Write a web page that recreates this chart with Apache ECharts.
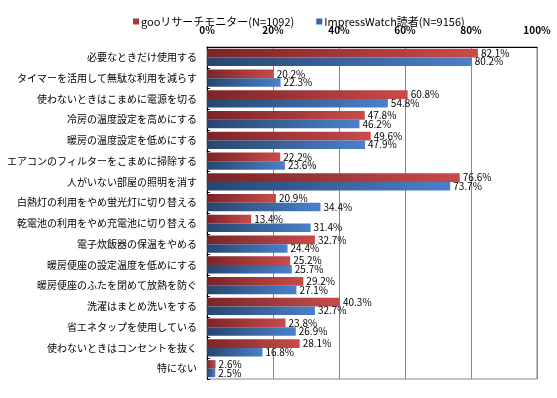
<!DOCTYPE html>
<html>
<head>
<meta charset="utf-8">
<script src="https://cdn.jsdelivr.net/npm/echarts@6/dist/echarts.min.js"></script>
<style>
html,body{margin:0;padding:0;background:#fff;}
#myChart{width:557px;height:398px;}
</style>
</head>
<body>
<div id="myChart"></div>
<script type="text/javascript">
// データ
var categories = [
	'必要なときだけ使用する',
	'タイマーを活用して無駄な利用を減らす',
	'使わないときはこまめに電源を切る',
	'冷房の温度設定を高めにする',
	'暖房の温度設定を低めにする',
	'エアコンのフィルターをこまめに掃除する',
	'人がいない部屋の照明を消す',
	'白熱灯の利用をやめ蛍光灯に切り替える',
	'乾電池の利用をやめ充電池に切り替える',
	'電子炊飯器の保温をやめる',
	'暖房便座の設定温度を低めにする',
	'暖房便座のふたを閉めて放熱を防ぐ',
	'洗濯はまとめ洗いをする',
	'省エネタップを使用している',
	'使わないときはコンセントを抜く',
	'特にない'
];
var seriesNames = ['gooリサーチモニター(N=1092)', 'ImpressWatch読者(N=9156)'];
var gooValues = [82.1, 20.2, 60.8, 47.8, 49.6, 22.2, 76.6, 20.9, 13.4, 32.7, 25.2, 29.2, 40.3, 23.8, 28.1, 2.6];
var impressValues = [80.2, 22.3, 54.8, 46.2, 47.9, 23.6, 73.7, 34.4, 31.4, 24.4, 25.7, 27.1, 32.7, 26.9, 16.8, 2.5];
var xTicks = [0, 20, 40, 60, 80, 100];

var font = '"Noto Sans CJK JP", sans-serif';

function grad(c1, c2)
{
	return new echarts.graphic.LinearGradient(0, 0, 1, 0, [
		{offset: 0, color: c1},
		{offset: 1, color: c2}
	]);
}

function makeSeries(name, data, c1, c2)
{
	return {
		name: name,
		type: 'bar',
		data: data,
		barGap: '0%',
		barCategoryGap: '18%',
		itemStyle: {color: grad(c1, c2)},
		label: {
			show: true,
			position: 'right',
			distance: 3,
			formatter: '{c}%',
			color: '#000',
			fontFamily: font,
			fontSize: 10
		}
	};
}

var option = {
	animation: false,
	backgroundColor: '#fff',
	legend: {
		top: 11,
		left: 128,
		icon: 'rect',
		itemWidth: 6,
		itemHeight: 6,
		itemGap: 22,
		textStyle: {fontFamily: font, fontSize: 11, color: '#000', padding: [0, 0, 0, -3]},
		data: [
			{name: seriesNames[0], itemStyle: {color: '#a83a3a'}},
			{name: seriesNames[1], itemStyle: {color: '#3a66a8'}}
		]
	},
	grid: {
		left: 207,
		right: 20,
		top: 47,
		bottom: 19,
		outerBoundsMode: 'none',
		show: true,
		borderColor: '#888',
		borderWidth: 1
	},
	xAxis: {
		type: 'value',
		position: 'top',
		min: xTicks[0],
		max: xTicks[xTicks.length - 1],
		interval: 20,
		axisLine: {show: true, lineStyle: {color: '#000', width: 1}},
		axisTick: {show: false},
		axisLabel: {
			formatter: '{value}%',
			fontFamily: font,
			fontSize: 10,
			fontWeight: 'bold',
			color: '#000',
			margin: 12
		},
		splitLine: {show: true, lineStyle: {color: '#888', width: 1}}
	},
	yAxis: {
		type: 'category',
		inverse: true,
		data: categories,
		axisLine: {show: true, lineStyle: {color: '#000', width: 1}},
		axisTick: {show: true, inside: true, length: 3, lineStyle: {color: '#000'}},
		axisLabel: {
			fontFamily: font,
			fontSize: 10,
			color: '#000',
			margin: 10
		}
	},
	series: [
		makeSeries(seriesNames[0], gooValues, '#7a2428', '#c94b4a'),
		makeSeries(seriesNames[1], impressValues, '#27466e', '#4a81ca')
	]
};

echarts.init(document.getElementById('myChart')).setOption(option);
</script>
</body>
</html>
